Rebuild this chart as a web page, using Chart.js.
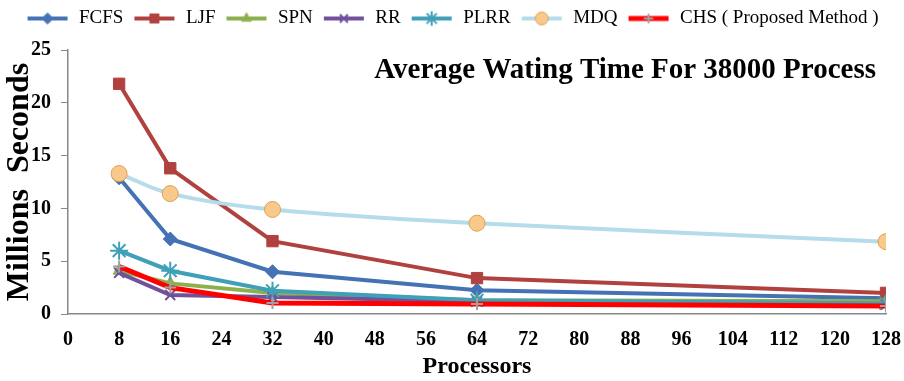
<!DOCTYPE html>
<html><head><meta charset="utf-8">
<script src="https://cdn.jsdelivr.net/npm/chart.js@4"></script>
<style>html,body{margin:0;padding:0;background:#fff;}#wrap{width:904px;height:381px;}</style>
</head><body><div id="wrap"><canvas id="c" width="904" height="381"></canvas></div>
<script>
const processors = [8, 16, 32, 64, 128];
const fcfs = [12.9, 7.1, 4.0, 2.25, 1.5];
const ljf  = [21.8, 13.8, 6.9, 3.4, 2.0];
const spn  = [4.1, 2.9, 2.0, 1.3, 1.2];
const rr   = [3.9, 1.8, 1.6, 1.2, 0.9];
const plrr = [6.0, 4.1, 2.2, 1.3, 1.0];
const mdq  = [13.3, 11.4, 9.9, 8.6, 6.85];
const chs  = [4.5, 2.5, 1.05, 0.95, 0.75];
const seriesNames = ['FCFS', 'LJF', 'SPN', 'RR', 'PLRR', 'MDQ', 'CHS ( Proposed Method )'];
const yTicks = [0, 5, 10, 15, 20, 25];
const titleText = 'Average Wating Time For 38000 Process';

const styles = [
  {line:'#4472B4', pt:'rectRot', r:7, fill:'#4472B4', border:'#4472B4', w:4, tension:0},
  {line:'#B0413E', pt:'rect', r:8, fill:'#B0413E', border:'#B0413E', w:4, tension:0},
  {line:'#8DB04F', pt:'triangle', r:7, fill:'#8DB04F', border:'#8DB04F', w:4, tension:0},
  {line:'#70519A', pt:'crossRot', r:7, fill:'#70519A', border:'#70519A', w:4, tension:0},
  {line:'#3FA0B8', pt:'star', r:9, fill:'#3FA0B8', border:'#3FA0B8', w:4, tension:0},
  {line:'#B4DCEA', pt:'circle', r:8, fill:'#F9C98C', border:'#E0A050', w:4, tension:0.35},
  {line:'#FF0000', pt:'cross', r:6, fill:'#A0A0A0', border:'#A0A0A0', w:5, tension:0}
];
const allData = [fcfs, ljf, spn, rr, plrr, mdq, chs];
const isStroke = pt => pt === 'cross' || pt === 'crossRot' || pt === 'star';

function legendIcon(s){
  const cv = document.createElement('canvas');
  cv.width = 44; cv.height = 18;
  const ctx = cv.getContext('2d');
  ctx.strokeStyle = s.line; ctx.lineWidth = s.w; ctx.lineCap = 'butt';
  ctx.beginPath(); ctx.moveTo(2, 9); ctx.lineTo(42, 9); ctx.stroke();
  ctx.fillStyle = s.fill; ctx.strokeStyle = s.border;
  ctx.lineWidth = isStroke(s.pt) ? 2 : 1;
  Chart.helpers.drawPoint(ctx, {pointStyle: s.pt, radius: s.r * 0.8, borderWidth: ctx.lineWidth, rotation: 0}, 22, 9);
  return cv;
}

const datasets = allData.map((d, i) => {
  const s = styles[i];
  return {
    label: seriesNames[i],
    data: processors.map((p, j) => ({x: p, y: d[j]})),
    borderColor: s.line, backgroundColor: s.fill,
    pointBackgroundColor: s.fill, pointBorderColor: s.border,
    pointStyle: s.pt, pointRadius: s.r,
    pointBorderWidth: isStroke(s.pt) ? 2 : 1,
    borderWidth: s.w, tension: s.tension, order: 7 - i
  };
});

const titlePlugin = {
  id: 'innerTitle',
  beforeInit(chart){
    const lg = chart.legend;
    if (lg) {
      const orig = lg.fit.bind(lg);
      lg.fit = function(){ orig(); this.height += 12; };
    }
  },
  afterDraw(chart){
    const ctx = chart.ctx, a = chart.chartArea;
    ctx.save();
    ctx.font = 'bold 29px "Liberation Serif"';
    ctx.fillStyle = '#000'; ctx.textAlign = 'right'; ctx.textBaseline = 'middle';
    ctx.fillText(titleText, a.right - 10, a.top + 21);
    ctx.restore();
  }
};

new Chart(document.getElementById('c'), {
  type: 'line',
  data: {datasets},
  plugins: [titlePlugin],
  options: {
    responsive: false, animation: false,
    layout: {padding: {left: 0, right: 0, top: 0, bottom: 0}},
    plugins: {
      tooltip: {enabled: false},
      legend: {
        position: 'top', align: 'center',
        labels: {
          usePointStyle: true, pointStyleWidth: 44, padding: 9,
          color: '#000', font: {family: '"Liberation Serif"', size: 19},
          generateLabels(chart){
            return chart.data.datasets.map((ds, i) => ({
              text: ds.label, pointStyle: legendIcon(styles[i]), datasetIndex: i,
              fontColor: '#000', hidden: false, lineWidth: 0, strokeStyle: 'transparent', fillStyle: 'transparent'
            }));
          }
        }
      }
    },
    scales: {
      x: {
        type: 'linear', min: 0, max: 128,
        afterFit(scale){ scale.height = 67; scale.paddingRight = 18; scale.paddingLeft = 0; },
        grid: {display: false, drawTicks: false},
        border: {color: '#888', width: 1.5},
        ticks: {stepSize: 8, color: '#000', padding: 14, font: {family: '"Liberation Serif"', size: 20, weight: 'bold'}},
        title: {display: true, text: 'Processors', color: '#000', padding: {top: 0, bottom: 0}, font: {family: '"Liberation Serif"', size: 24, weight: 'bold'}}
      },
      y: {
        min: 0, max: 25,
        afterFit(scale){ scale.width = 68; },
        afterBuildTicks(scale){ scale.ticks = yTicks.map(v => ({value: v})); },
        grid: {display: true, drawOnChartArea: false, drawTicks: true, tickLength: 7, tickColor: '#888'},
        border: {color: '#888', width: 1.5},
        ticks: {color: '#000', padding: 10, font: {family: '"Liberation Serif"', size: 20, weight: 'bold'}},
        title: {display: true, text: 'Millions  Seconds', color: '#000', padding: {top: 1, bottom: 0}, font: {family: '"Liberation Serif"', size: 32, weight: 'bold'}}
      }
    }
  }
});
</script></body></html>
